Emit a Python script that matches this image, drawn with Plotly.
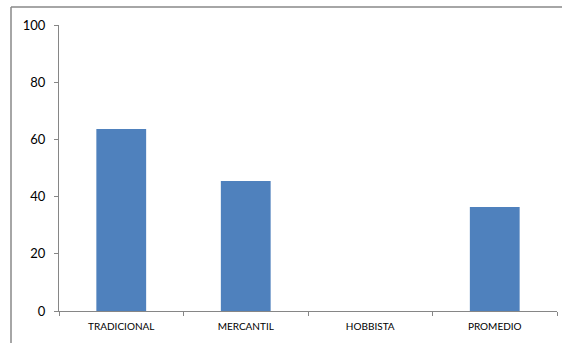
import plotly.graph_objects as go

categories = ["TRADICIONAL", "MERCANTIL", "HOBBISTA", "PROMEDIO"]
values = [63.64, 45.45, 0, 36.36]
y_ticks = [0, 20, 40, 60, 80, 100]

W, H = 562, 343
L, R, T, B = 59, 5, 25, 32
pw, ph = W - L - R, H - T - B

fig = go.Figure(go.Bar(
    x=categories, y=values,
    marker=dict(color="#4F81BD", line=dict(width=0)),
    width=0.4,
))

axis_col = "#868686"
fig.update_layout(
    width=W, height=H,
    margin=dict(l=L, r=R, t=T, b=B, pad=0),
    paper_bgcolor="white", plot_bgcolor="white",
    showlegend=False,
    font=dict(family="Lato, 'Open Sans', sans-serif", color="#000000"),
    xaxis=dict(
        showline=True, linecolor=axis_col, linewidth=1,
        ticks="outside", tickson="boundaries", ticklen=4, tickcolor=axis_col,
        tickfont=dict(size=10), showgrid=False, zeroline=False,
        ticklabelstandoff=6,
    ),
    yaxis=dict(
        range=[0, 100], tickvals=y_ticks,
        showline=True, linecolor=axis_col, linewidth=1,
        ticks="outside", ticklen=4, tickcolor=axis_col,
        tickfont=dict(size=13), showgrid=False, zeroline=False,
        ticklabelstandoff=6,
    ),
)

# outer chart border (cropped at right and bottom)
bx0 = (11 - L) / pw
by_top = (H - B - 7) / ph
by_bot = (H - B - 345) / ph
fig.add_shape(type="line", xref="paper", yref="paper", x0=bx0, x1=bx0, y0=by_bot, y1=by_top,
              line=dict(color="#898989", width=1.5))
fig.add_shape(type="line", xref="paper", yref="paper", x0=bx0, x1=(W + 2 - L) / pw, y0=by_top, y1=by_top,
              line=dict(color="#898989", width=1.5))

fig.write_html(
    "out.html",
    config={"displayModeBar": False},
    post_script="document.body.style.margin='0';document.body.style.overflow='hidden';",
)
